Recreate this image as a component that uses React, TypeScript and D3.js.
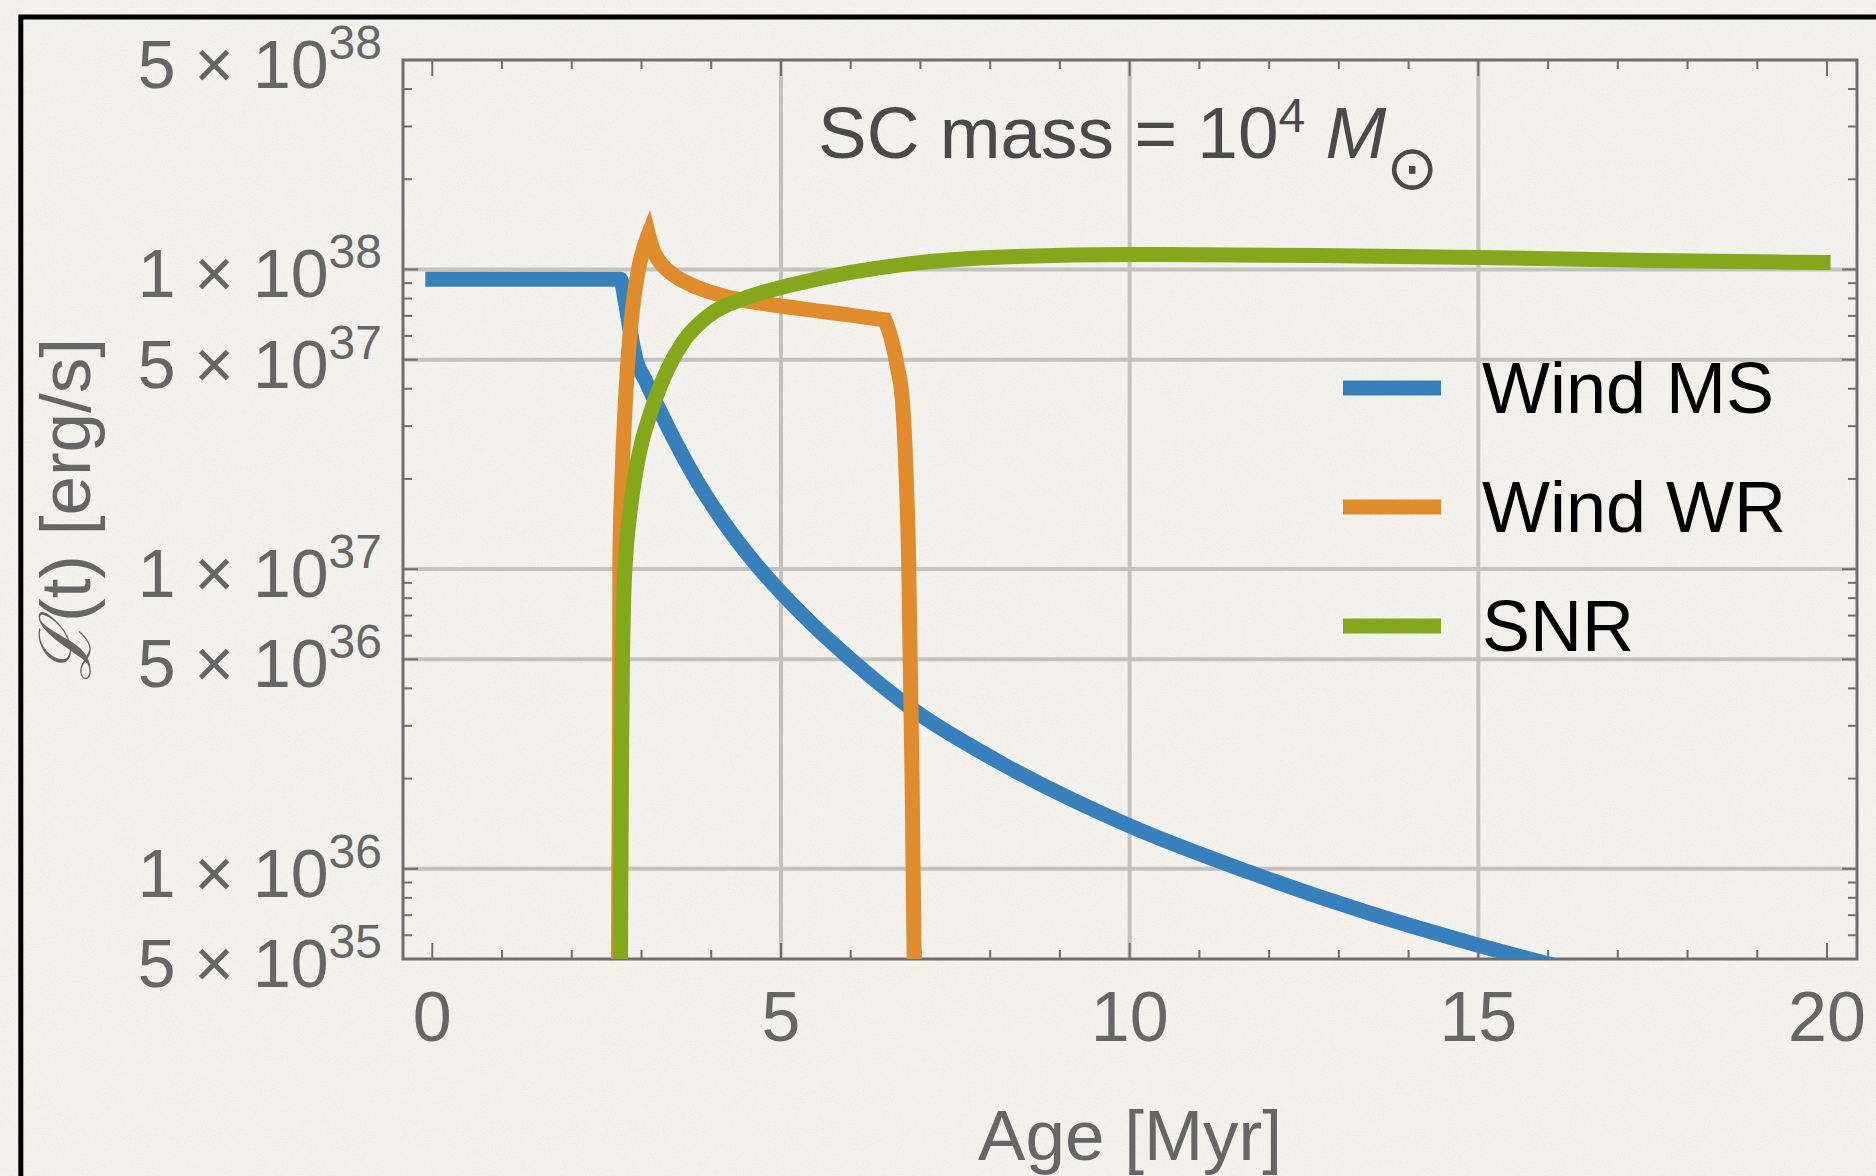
import React from "react";
import * as d3 from "d3";

// luminosity of the cluster components vs age
const msAge = [-0.1, 2.7, 2.76, 2.83, 2.92, 3.05, 3.23, 3.45, 3.72, 4.2, 4.7, 5.3, 6.0, 6.9, 8.1, 10.0, 11.7, 13.4, 15.0, 16.2];
const msLum = [9.28e37, 9.28e37, 8.0e37, 6.4e37, 5.0e37, 4.3e37, 3.5e37, 2.76e37, 2.11e37, 1.41e37, 1.0e37, 7.08e36, 5.0e36, 3.39e36, 2.29e36, 1.39e36, 9.77e35, 7.16e35, 5.56e35, 4.68e35];

// Wolf-Rayet winds: rise, peak, slow decline, cut-off
const wrRiseAge = [2.665, 2.675, 2.685, 2.69, 2.72, 2.756, 2.806, 2.871, 2.957, 3.1];
const wrRiseLum = [3e35, 1e36, 3e36, 1.07e37, 2.0e37, 3.16e37, 5.0e37, 7.36e37, 1.0e38, 1.31e38];
const wrDeclAge = [3.1, 3.15, 3.22, 3.32, 3.5, 3.8, 4.2, 4.8, 5.6, 6.49];
const wrDeclLum = [1.31e38, 1.19e38, 1.096e38, 1.023e38, 9.44e37, 8.71e37, 8.13e37, 7.67e37, 7.24e37, 6.79e37];
const wrCutAge = [6.49, 6.58, 6.67, 6.74, 6.79, 6.83, 6.88, 6.91, 6.93];
const wrCutLum = [6.79e37, 5.9e37, 4.7e37, 3.67e37, 2.2e37, 1.1e37, 2.0e36, 5.0e35, 3e35];

const snrAge = [2.695, 2.705, 2.715, 2.725, 2.745, 2.78, 2.84, 2.9, 3.0, 3.1, 3.37, 3.6, 3.93, 4.5, 5.0, 5.5, 6.0, 6.8, 8.0, 10.0, 12.7, 15.0, 17.5, 20.05];
const snrLum = [3e35, 1e36, 2.51e36, 4.47e36, 7.94e36, 1.15e37, 1.585e37, 1.995e37, 2.63e37, 3.16e37, 4.62e37, 5.75e37, 6.92e37, 8.04e37, 8.71e37, 9.27e37, 9.77e37, 1.042e38, 1.096e38, 1.122e38, 1.114e38, 1.096e38, 1.072e38, 1.054e38];

const seriesNames = ["Wind MS", "Wind WR", "SNR"];
const seriesColors = ["#3880bc", "#e08c2c", "#84a81c"];

const xTickLabels = [0, 5, 10, 15, 20];
const xGridValues = [5, 10, 15];
const yTickLabels = [5e38, 1e38, 5e37, 1e37, 5e36, 1e36, 5e35];
const yGridValues = [1e38, 5e37, 1e37, 5e36, 1e36];

const W = 1876;
const H = 1176;
const margin = { top: 60, right: 19, bottom: 217, left: 403 };
const FONT = "'Liberation Sans', Arial, Helvetica, sans-serif";
const AXIS = "#6e6e6e";

export default function App() {
  const x0 = margin.left,
    x1 = W - margin.right,
    y0 = margin.top,
    y1 = H - margin.bottom;

  const x = d3.scaleLinear().domain([-0.42, 20.43]).range([x0, x1]);
  const y = d3.scaleLog().domain([5e35, 5e38]).range([y1, y0]);

  const line = d3
    .line<[number, number]>()
    .x((d) => x(d[0]))
    .y((d) => y(d[1]))
    .curve(d3.curveMonotoneX);

  const pts = (a: number[], b: number[]) => d3.zip(a, b) as [number, number][];

  // WR curve: three smooth pieces joined with sharp corners
  const wrPath = [
    line(pts(wrRiseAge, wrRiseLum)) || "",
    (line(pts(wrDeclAge, wrDeclLum)) || "").replace(/^M[^A-Za-z]*/, ""),
    (line(pts(wrCutAge, wrCutLum)) || "").replace(/^M[^A-Za-z]*/, ""),
  ].join("");

  const paths = [line(pts(msAge, msLum)) || "", wrPath, line(pts(snrAge, snrLum)) || ""];

  // minor ticks: every Myr, every integer multiple in each decade
  const xMinor = d3.range(0, 21);
  const yMinor: number[] = [];
  for (let e = 35; e <= 38; e++)
    for (let m = 1; m <= 9; m++) {
      const v = m * Math.pow(10, e);
      if (v >= 5e35 && v <= 5e38) yMinor.push(v);
    }
  const isMajorY = (v: number) => {
    const m = Math.round(v / Math.pow(10, Math.floor(Math.log10(v) + 1e-9)));
    return m === 1 || m === 5;
  };

  const legendX = 1343,
    legendY = 388,
    legendStep = 119;

  return (
    <svg
      width={W}
      height={H}
      style={{ position: "absolute", left: 0, top: 0, display: "block" }}
    >
      <defs>
        <filter id="paper" x="0" y="0" width="100%" height="100%">
          <feTurbulence type="fractalNoise" baseFrequency="0.85" numOctaves="3" seed="3" />
          <feColorMatrix
            type="matrix"
            values="0 0 0 0 0.55  0 0 0 0 0.52  0 0 0 0 0.45  0 0 0 1.2 -0.45"
          />
        </filter>
        <clipPath id="plotClip">
          <rect x={x0} y={y0} width={x1 - x0} height={y1 - y0} />
        </clipPath>
      </defs>

      <rect width={W} height={H} fill="#f5f3ef" />
      <rect width={W} height={H} filter="url(#paper)" opacity={0.25} />

      {/* outer black frame */}
      <path d={`M20.8,${H + 10} V17 H${W + 10}`} fill="none" stroke="#000" strokeWidth={5} />

      {/* grid */}
      <g stroke="#c4c2be" strokeWidth={4}>
        {xGridValues.map((v) => (
          <line key={"gx" + v} x1={x(v)} x2={x(v)} y1={y0} y2={y1} />
        ))}
        {yGridValues.map((v) => (
          <line key={"gy" + v} x1={x0} x2={x1} y1={y(v)} y2={y(v)} />
        ))}
      </g>

      {/* ticks */}
      <g stroke={AXIS} strokeWidth={2}>
        {xMinor.map((v) => {
          const len = v % 5 === 0 ? 16 : 9;
          return (
            <g key={"tx" + v}>
              <line x1={x(v)} x2={x(v)} y1={y1} y2={y1 - len} />
              <line x1={x(v)} x2={x(v)} y1={y0} y2={y0 + len} />
            </g>
          );
        })}
        {yMinor.map((v) => {
          const len = isMajorY(v) ? 15 : 9;
          return (
            <g key={"ty" + v}>
              <line x1={x0} x2={x0 + len} y1={y(v)} y2={y(v)} />
              <line x1={x1} x2={x1 - len} y1={y(v)} y2={y(v)} />
            </g>
          );
        })}
      </g>

      {/* frame */}
      <rect x={x0} y={y0} width={x1 - x0} height={y1 - y0} fill="none" stroke={AXIS} strokeWidth={3} />

      {/* curves */}
      <g clipPath="url(#plotClip)" fill="none" strokeWidth={15} strokeLinejoin="miter">
        {paths.map((d, i) => (
          <path key={i} d={d} stroke={seriesColors[i]} />
        ))}
      </g>

      {/* y tick labels */}
      <g fontFamily={FONT} fill="#666" textAnchor="end">
        {yTickLabels.map((v) => {
          const e = Math.floor(Math.log10(v) + 1e-9);
          const m = Math.round(v / Math.pow(10, e));
          return (
            <text key={"ly" + v} x={382} y={y(v) + 28} fontSize={68}>
              {`${m} × 10`}
              <tspan dy={-29} fontSize={48}>
                {e}
              </tspan>
            </text>
          );
        })}
      </g>

      {/* x tick labels */}
      <g fontFamily={FONT} fill="#666" textAnchor="middle" fontSize={70}>
        {xTickLabels.map((v) => (
          <text key={"lx" + v} x={x(v)} y={1041}>
            {v}
          </text>
        ))}
      </g>

      {/* axis titles */}
      <text x={(x0 + x1) / 2} y={1160} fontFamily={FONT} fontSize={71} fill="#666" textAnchor="middle">
        Age [Myr]
      </text>
      <text
        x={90}
        y={(y0 + y1) / 2}
        fontFamily={FONT}
        fontSize={71}
        fill="#666"
        textAnchor="middle"
        transform={`rotate(-90, 90, ${(y0 + y1) / 2})`}
      >
        <tspan fontStyle="italic">ℒ</tspan>(t) [erg/s]
      </text>

      {/* annotation */}
      <text x={818} y={158} fontFamily={FONT} fontSize={73} fill="#4a4a4a">
        SC mass = 10
        <tspan dy={-26} fontSize={48}>4</tspan>
        <tspan dy={26}>{"  "}</tspan>
        <tspan fontStyle="italic">M</tspan>
        <tspan dy={31} fontSize={62} fontFamily="'DejaVu Sans', sans-serif">⊙</tspan>
      </text>

      {/* legend */}
      <g fontFamily={FONT} fontSize={72} fill="#000">
        {seriesNames.map((name, i) => (
          <g key={name}>
            <line
              x1={legendX}
              x2={legendX + 98}
              y1={legendY + i * legendStep}
              y2={legendY + i * legendStep}
              stroke={seriesColors[i]}
              strokeWidth={15}
            />
            <text x={1482} y={legendY + i * legendStep + 25}>
              {name}
            </text>
          </g>
        ))}
      </g>
    </svg>
  );
}
